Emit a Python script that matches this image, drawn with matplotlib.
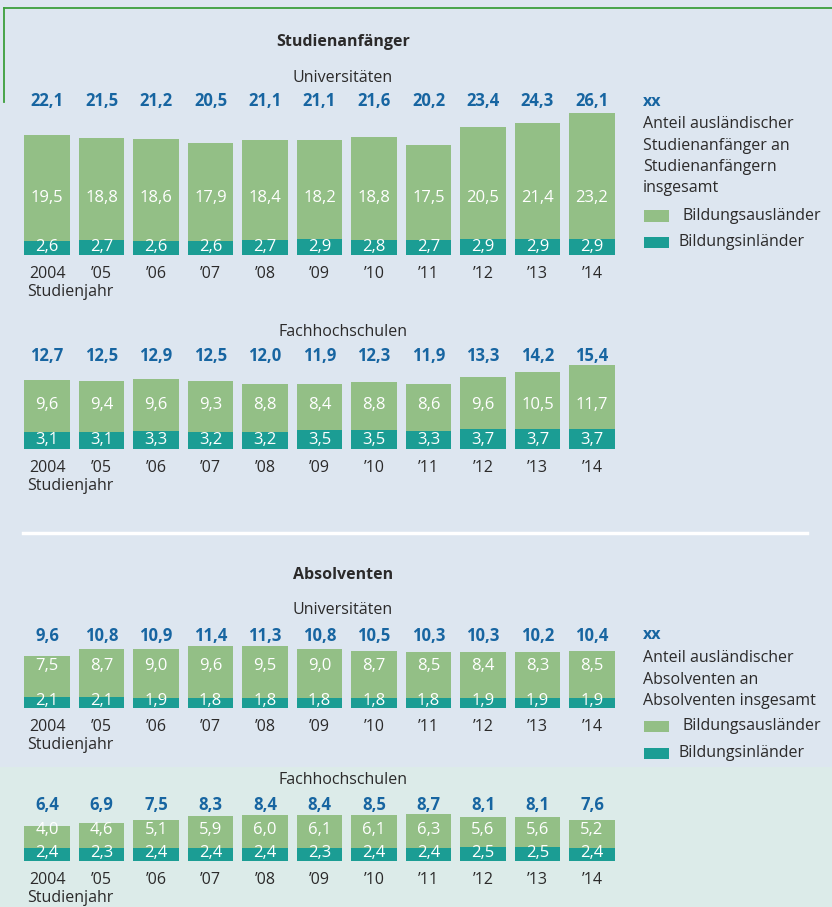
import matplotlib
matplotlib.use('Agg')
import matplotlib.pyplot as plt
from matplotlib.patches import Rectangle
from matplotlib.lines import Line2D
from matplotlib.transforms import blended_transform_factory

plt.rcParams['font.family'] = ['Open Sans', 'DejaVu Sans']

years = ['2004', '\u201905', '\u201906', '\u201907', '\u201908', '\u201909',
         '\u201910', '\u201911', '\u201912', '\u201913', '\u201914']

anf_uni_total = [22.1, 21.5, 21.2, 20.5, 21.1, 21.1, 21.6, 20.2, 23.4, 24.3, 26.1]
anf_uni_aus = [19.5, 18.8, 18.6, 17.9, 18.4, 18.2, 18.8, 17.5, 20.5, 21.4, 23.2]
anf_uni_inl = [2.6, 2.7, 2.6, 2.6, 2.7, 2.9, 2.8, 2.7, 2.9, 2.9, 2.9]

anf_fh_total = [12.7, 12.5, 12.9, 12.5, 12.0, 11.9, 12.3, 11.9, 13.3, 14.2, 15.4]
anf_fh_aus = [9.6, 9.4, 9.6, 9.3, 8.8, 8.4, 8.8, 8.6, 9.6, 10.5, 11.7]
anf_fh_inl = [3.1, 3.1, 3.3, 3.2, 3.2, 3.5, 3.5, 3.3, 3.7, 3.7, 3.7]

abs_uni_total = [9.6, 10.8, 10.9, 11.4, 11.3, 10.8, 10.5, 10.3, 10.3, 10.2, 10.4]
abs_uni_aus = [7.5, 8.7, 9.0, 9.6, 9.5, 9.0, 8.7, 8.5, 8.4, 8.3, 8.5]
abs_uni_inl = [2.1, 2.1, 1.9, 1.8, 1.8, 1.8, 1.8, 1.8, 1.9, 1.9, 1.9]

abs_fh_total = [6.4, 6.9, 7.5, 8.3, 8.4, 8.4, 8.5, 8.7, 8.1, 8.1, 7.6]
abs_fh_aus = [4.0, 4.6, 5.1, 5.9, 6.0, 6.1, 6.1, 6.3, 5.6, 5.6, 5.2]
abs_fh_inl = [2.4, 2.3, 2.4, 2.4, 2.4, 2.3, 2.4, 2.4, 2.5, 2.5, 2.4]

GREEN = '#93bf86'
TEAL = '#1b9d94'
BLUE = '#1765a1'
DARK = '#2b2a2a'
BG = '#dde6f0'
BG2 = '#dcebe9'

W, H = 832, 907
PX_PER_UNIT = 5.45
YMAX = 30

fig = plt.figure(figsize=(W / 100, H / 100), dpi=100)
fig.patch.set_facecolor(BG)


def fy(py):
    return 1 - py / H


def fx(px):
    return px / W


# background band and frame lines
fig.patches.append(Rectangle((0, 0), 1, fy(767), transform=fig.transFigure,
                             facecolor=BG2, edgecolor='none', zorder=-5))
fig.lines.append(Line2D([fx(4), 1], [fy(8), fy(8)], transform=fig.transFigure,
                        color='#3c9f3c', lw=1.3))
fig.lines.append(Line2D([fx(4), fx(4)], [fy(8), fy(102)], transform=fig.transFigure,
                        color='#3c9f3c', lw=1.3))
fig.lines.append(Line2D([fx(23), fx(807)], [fy(533), fy(533)], transform=fig.transFigure,
                        color='white', lw=2.5))


def panel(base, total, aus, inl, y_tot, y_aus, y_inl, y_year):
    ax = fig.add_axes([fx(19.75), fy(base), fx(599.5), YMAX * PX_PER_UNIT / H])
    ax.set_zorder(1)
    ax.set_xlim(-0.5, 10.5)
    ax.set_ylim(0, YMAX)
    ax.axis('off')
    ax.patch.set_alpha(0)
    x = list(range(len(years)))
    ax.bar(x, inl, width=0.83, color=TEAL, linewidth=0)
    ax.bar(x, aus, bottom=inl, width=0.83, color=GREEN, linewidth=0)
    tr = blended_transform_factory(ax.transData, fig.transFigure)
    for i in x:
        ax.text(i, fy(y_tot), f'{total[i]:.1f}'.replace('.', ','), transform=tr,
                ha='center', va='center', color=BLUE, fontsize=12, fontweight='bold')
        ax.text(i, fy(y_aus), f'{aus[i]:.1f}'.replace('.', ','), transform=tr,
                ha='center', va='center', color='white', fontsize=12)
        ax.text(i, fy(y_inl), f'{inl[i]:.1f}'.replace('.', ','), transform=tr,
                ha='center', va='center', color='white', fontsize=12)
        ax.text(i, fy(y_year), years[i], transform=tr,
                ha='center', va='center', color=DARK, fontsize=11.5)
    fig.text(fx(27), fy(y_year + 18), 'Studienjahr', ha='left', va='center',
             color=DARK, fontsize=11.5)
    return ax


panel(255, anf_uni_total, anf_uni_aus, anf_uni_inl, 101, 198, 247, 274)
panel(449, anf_fh_total, anf_fh_aus, anf_fh_inl, 356, 405, 440, 468)
panel(708, abs_uni_total, abs_uni_aus, abs_uni_inl, 636, 666, 701, 727)
panel(861, abs_fh_total, abs_fh_aus, abs_fh_inl, 805, 830, 853, 880)

# headings
for txt, py, bold in [('Studienanfänger', 42, True), ('Universitäten', 78, False),
                      ('Fachhochschulen', 332, False), ('Absolventen', 575, True),
                      ('Universitäten', 610, False), ('Fachhochschulen', 780, False)]:
    fig.text(fx(343), fy(py), txt, ha='center', va='center', color=DARK,
             fontsize=11.5, fontweight='bold' if bold else 'normal')


def legend(y_xx, lines, y_first, y_g, y_t):
    fig.text(fx(643), fy(y_xx), 'xx', ha='left', va='center', color=BLUE,
             fontsize=11.5, fontweight='bold')
    for k, ln in enumerate(lines):
        fig.text(fx(643), fy(y_first + 21.5 * k), ln, ha='left', va='center',
                 color=DARK, fontsize=11.5)
    for py, col, lab, lx in [(y_g, GREEN, 'Bildungsausländer', 682),
                             (y_t, TEAL, 'Bildungsinländer', 679)]:
        fig.patches.append(Rectangle((fx(644), fy(py + 5.5)), fx(25), 11 / H,
                                     transform=fig.transFigure, facecolor=col,
                                     edgecolor='none'))
        fig.text(fx(lx), fy(py), lab, ha='left', va='center', color=DARK, fontsize=11.5)


legend(102, ['Anteil ausländischer', 'Studienanfänger an', 'Studienanfängern', 'insgesamt'],
       124, 216, 242)
legend(635, ['Anteil ausländischer', 'Absolventen an', 'Absolventen insgesamt'],
       658, 726, 753)

fig.savefig('out.png', dpi=100, facecolor=fig.get_facecolor())
